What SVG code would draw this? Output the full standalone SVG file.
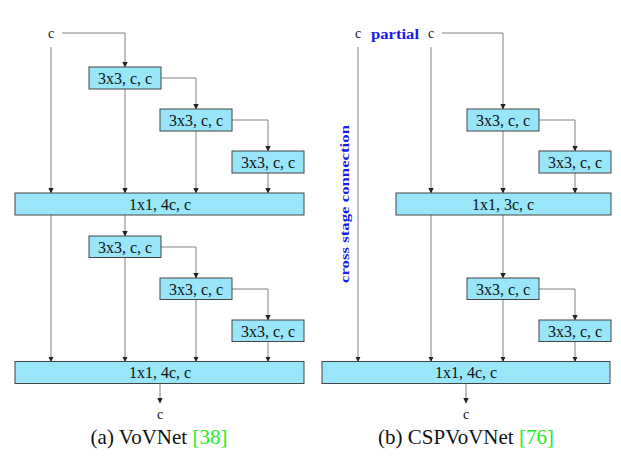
<svg xmlns="http://www.w3.org/2000/svg" width="621" height="467" viewBox="0 0 621 467">
<defs>
<marker id="ah" markerWidth="6" markerHeight="6" refX="5" refY="3" orient="auto" markerUnits="userSpaceOnUse">
<path d="M0,0.3 L5.5,3 L0,5.7 Z" fill="#222"/>
</marker>
<style>
.box{fill:#99e6fb;stroke:#444;stroke-width:1}
.bt{font-family:"Liberation Serif",serif;font-size:16px;fill:#111;text-anchor:middle}
.lbl{font-family:"Liberation Serif",serif;font-size:14px;fill:#111;text-anchor:middle}
.cap{font-family:"Liberation Serif",serif;font-size:21px;fill:#111;text-anchor:middle}
.ref{fill:#22ee22}
.blue{font-family:"Liberation Serif",serif;font-weight:bold;fill:#1a1aee;text-anchor:middle}
.con path{fill:none;stroke:#808080;stroke-width:1;marker-end:url(#ah)}
</style>
</defs>
<rect width="621" height="467" fill="#fff"/>
<g class="con" id="connectors">
<path d="M62,33 H125 V67"/>
<path d="M51,47 V193"/>
<path d="M125,89 V193"/>
<path d="M161,78 H196 V109"/>
<path d="M196,131 V193"/>
<path d="M232,120 H268 V151"/>
<path d="M268,173 V193"/>
<path d="M51,215 V361.5"/>
<path d="M125,215 V236"/>
<path d="M125,257 V361.5"/>
<path d="M161,247 H196 V278"/>
<path d="M196,299 V361.5"/>
<path d="M232,289 H268 V320"/>
<path d="M268,341 V361.5"/>
<path d="M160,383.5 V403"/>
<path d="M442,33 H503 V109"/>
<path d="M358,47 V361.5"/>
<path d="M431,47 V193"/>
<path d="M503,131 V193"/>
<path d="M539,120 H575 V151"/>
<path d="M575,173 V193"/>
<path d="M431,215 V361.5"/>
<path d="M503,215 V278"/>
<path d="M503,299 V361.5"/>
<path d="M539,289 H575 V320"/>
<path d="M575,341 V361.5"/>
<path d="M466,383.5 V403"/>
</g>
<g id="a-in"><text class="lbl" x="51" y="38">c</text></g>
<g id="a-b1"><rect class="box" x="89" y="67" width="72" height="22"/><text class="bt" x="125" y="83.5">3x3, c, c</text></g>
<g id="a-b2"><rect class="box" x="160" y="109" width="72" height="22"/><text class="bt" x="196" y="125.5">3x3, c, c</text></g>
<g id="a-b3"><rect class="box" x="232" y="151" width="72" height="22"/><text class="bt" x="268" y="167.5">3x3, c, c</text></g>
<g id="a-t1"><rect class="box" x="15" y="193" width="289" height="22"/><text class="bt" x="160" y="209.5">1x1, 4c, c</text></g>
<g id="a-b4"><rect class="box" x="89" y="236" width="72" height="21.5"/><text class="bt" x="125" y="252.5">3x3, c, c</text></g>
<g id="a-b5"><rect class="box" x="160" y="278" width="72" height="21.5"/><text class="bt" x="196" y="294.5">3x3, c, c</text></g>
<g id="a-b6"><rect class="box" x="232" y="320" width="72" height="21.5"/><text class="bt" x="268" y="336.5">3x3, c, c</text></g>
<g id="a-t2"><rect class="box" x="15" y="361.5" width="289" height="22"/><text class="bt" x="160" y="378">1x1, 4c, c</text></g>
<g id="a-out"><text class="lbl" x="160" y="419">c</text></g>
<g id="a-cap"><text class="cap" x="159" y="444">(a) VoVNet <tspan class="ref">[38]</tspan></text></g>

<g id="b-in1"><text class="lbl" x="358" y="38">c</text></g>
<g id="b-partial"><text class="blue" x="395" y="38.5" font-size="14.5" textLength="48" lengthAdjust="spacingAndGlyphs">partial</text></g>
<g id="b-in2"><text class="lbl" x="431" y="38">c</text></g>
<g id="b-csc"><text class="blue" font-size="12" textLength="158" lengthAdjust="spacingAndGlyphs" transform="translate(348.5,204) rotate(-90)">cross stage connection</text></g>
<g id="b-b1"><rect class="box" x="467" y="109" width="72" height="22"/><text class="bt" x="503" y="125.5">3x3, c, c</text></g>
<g id="b-b2"><rect class="box" x="539" y="151" width="72" height="22"/><text class="bt" x="575" y="167.5">3x3, c, c</text></g>
<g id="b-t1"><rect class="box" x="396" y="193" width="215" height="22"/><text class="bt" x="503" y="209.5">1x1, 3c, c</text></g>
<g id="b-b3"><rect class="box" x="467" y="278" width="72" height="21.5"/><text class="bt" x="503" y="294.5">3x3, c, c</text></g>
<g id="b-b4"><rect class="box" x="539" y="320" width="72" height="21.5"/><text class="bt" x="575" y="336.5">3x3, c, c</text></g>
<g id="b-t2"><rect class="box" x="322" y="361.5" width="288" height="22"/><text class="bt" x="466" y="378">1x1, 4c, c</text></g>
<g id="b-out"><text class="lbl" x="466" y="419">c</text></g>
<g id="b-cap"><text class="cap" x="466" y="444">(b) CSPVoVNet <tspan class="ref">[76]</tspan></text></g>
</svg>
